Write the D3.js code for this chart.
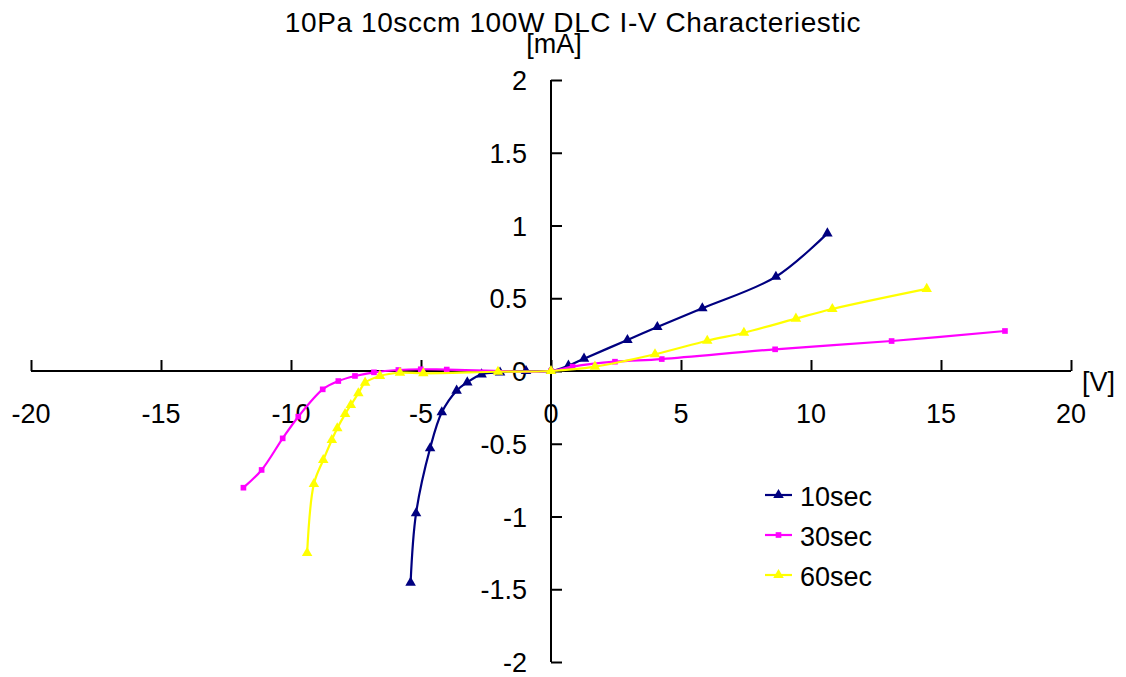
<!DOCTYPE html>
<html>
<head>
<meta charset="utf-8">
<script src="https://cdn.jsdelivr.net/npm/d3@7"></script>
<style>
  html, body { margin: 0; padding: 0; background: #fff; }
  svg { display: block; font-family: "Liberation Sans", Arial, sans-serif; }
</style>
</head>
<body>
<svg id="chart" width="1126" height="677"></svg>
<script>
// ---- data ----
const seriesNames = ["10sec", "30sec", "60sec"];
const v10 = [-5.40, -5.19, -4.65, -4.20, -3.63, -3.22, -2.67, -1.96, -0.96, 0, 0.67, 1.27, 2.94, 4.09, 5.82, 8.65, 10.63];
const i10 = [-1.455, -0.978, -0.531, -0.284, -0.135, -0.078, -0.023, -0.010, 0, 0, 0.037, 0.085, 0.213, 0.302, 0.431, 0.648, 0.946];
const v30 = [-11.83, -11.13, -10.32, -9.72, -8.78, -8.18, -7.54, -6.81, -5.87, -5.01, -4.01, 0, 0.83, 2.46, 4.26, 8.62, 13.10, 17.46];
const i30 = [-0.802, -0.680, -0.463, -0.314, -0.126, -0.069, -0.034, -0.009, 0.007, 0.012, 0.010, 0, 0.030, 0.064, 0.082, 0.149, 0.206, 0.275];
const v60 = [-9.38, -9.12, -8.76, -8.43, -8.22, -7.92, -7.70, -7.41, -7.15, -6.58, -5.81, -4.91, -2.04, 0, 1.69, 4.00, 6.01, 7.42, 9.42, 10.82, 14.45];
const i60 = [-1.251, -0.777, -0.612, -0.474, -0.394, -0.296, -0.234, -0.153, -0.080, -0.034, -0.012, -0.016, -0.005, 0, 0.030, 0.115, 0.208, 0.263, 0.360, 0.426, 0.564];
const xTicks = [-20, -15, -10, -5, 0, 5, 10, 15, 20];
const yTicks = [-2, -1.5, -1, -0.5, 0, 0.5, 1, 1.5, 2];
const titleText = "10Pa 10sccm 100W DLC I-V Characteriestic";
const xUnit = "[V]";
const yUnit = "[mA]";

const svg = d3.select("#chart");
const x = d3.scaleLinear().domain([-20, 20]).range([31, 1071]);
const y = d3.scaleLinear().domain([-2, 2]).range([662, 80]);

const series = [
  { name: seriesNames[0], v: v10, i: i10, color: "#000080", marker: "tri" },
  { name: seriesNames[1], v: v30, i: i30, color: "#FF00FF", marker: "sq" },
  { name: seriesNames[2], v: v60, i: i60, color: "#FFFF00", marker: "tri" }
];

const fontSize = 27;

// title
svg.append("text").attr("x", 573).attr("y", 32).attr("text-anchor", "middle")
  .attr("font-size", 28).attr("letter-spacing", 0.6).attr("fill", "#000").text(titleText);

// x axis (ticks upward)
const xAxis = d3.axisTop(x).tickValues(xTicks).tickSize(11).tickFormat("");
const gx = svg.append("g").attr("transform", `translate(0,${y(0)})`).call(xAxis);
gx.select(".domain").attr("stroke", "#000").attr("stroke-width", 2).attr("d", `M${x(-20)},0H${x(20)}`);
gx.selectAll(".tick line").attr("stroke", "#000").attr("stroke-width", 2);

// y axis (ticks to the right)
const yAxis = d3.axisRight(y).tickValues(yTicks).tickSize(11).tickFormat("");
const gy = svg.append("g").attr("transform", `translate(${x(0)},0)`).call(yAxis);
gy.select(".domain").attr("stroke", "#000").attr("stroke-width", 2).attr("d", `M0,${y(2)}V${y(-2)}`);
gy.selectAll(".tick line").attr("stroke", "#000").attr("stroke-width", 2);

// tick labels
svg.append("g").selectAll("text").data(xTicks).join("text")
  .attr("x", d => x(d)).attr("y", y(0) + 52).attr("text-anchor", "middle")
  .attr("font-size", fontSize).text(d => String(d));
svg.append("g").selectAll("text").data(yTicks).join("text")
  .attr("x", x(0) - 24).attr("y", d => y(d) + 10).attr("text-anchor", "end")
  .attr("font-size", fontSize).text(d => String(d));

// unit labels
svg.append("text").attr("x", 554).attr("y", 53).attr("text-anchor", "middle")
  .attr("font-size", fontSize).text(yUnit);
svg.append("text").attr("x", 1082).attr("y", 391).attr("text-anchor", "start")
  .attr("font-size", fontSize).text(xUnit);

// lines
const line = d3.line().x(d => x(d[0])).y(d => y(d[1])).curve(d3.curveCatmullRom.alpha(0.5));
const triPath = d3.symbol().type(d3.symbolTriangle).size(48);
const sqPath = d3.symbol().type(d3.symbolSquare).size(32);

series.forEach(s => {
  const pts = s.v.map((v, k) => [v, s.i[k]]);
  svg.append("path").datum(pts).attr("d", line)
    .attr("fill", "none").attr("stroke", s.color).attr("stroke-width", 2.2);
  svg.append("g").selectAll("path").data(pts).join("path")
    .attr("transform", d => `translate(${x(d[0])},${y(d[1])})`)
    .attr("d", s.marker === "tri" ? triPath() : sqPath())
    .attr("fill", s.color);
});

// legend
const leg = svg.append("g");
series.forEach((s, k) => {
  const yy = 495 + k * 40;
  leg.append("line").attr("x1", 765).attr("x2", 792).attr("y1", yy).attr("y2", yy)
    .attr("stroke", s.color).attr("stroke-width", 2.2);
  leg.append("path").attr("transform", `translate(778.5,${yy})`)
    .attr("d", s.marker === "tri" ? triPath() : sqPath()).attr("fill", s.color);
  leg.append("text").attr("x", 800).attr("y", yy + 11).attr("font-size", fontSize).text(s.name);
});
</script>
</body>
</html>
